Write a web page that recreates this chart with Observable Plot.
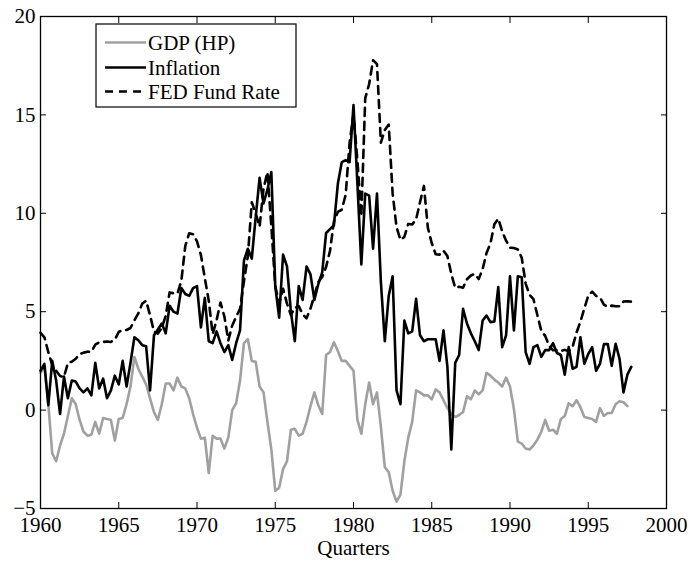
<!DOCTYPE html>
<html>
<head>
<meta charset="utf-8">
<script src="https://cdn.jsdelivr.net/npm/d3@7"></script>
<script src="https://cdn.jsdelivr.net/npm/@observablehq/plot@0.6"></script>
<style>
  html, body { margin: 0; padding: 0; background: #fff; }
  #wrap { position: relative; width: 692px; height: 567px; }
  #legend { position: absolute; left: 0; top: 0; }
</style>
</head>
<body>
<div id="wrap"></div>
<script>
// ---- Data (quarterly, 1960Q1 .. 1997Q4) ----
const startYear = 1960;
const seriesNames = ["GDP (HP)", "Inflation", "FED Fund Rate"];
const xLabel = "Quarters";
const xTicks = [1960, 1965, 1970, 1975, 1980, 1985, 1990, 1995, 2000];
const yTicks = [-5, 0, 5, 10, 15, 20];

const gdp = [
  1.9, 2.2, 0.3, -2.2,   -2.6, -1.8, -1.2, -0.3,   0.6, 0.3, -0.5, -1.1,
  -1.3, -1.25, -0.6, -1.2,   -0.4, -0.45, -0.5, -1.55,   -0.45, -0.4, 0.3, 1.2,
  2.7, 2.1, 1.7, 1.3,   0.6, -0.1, -0.5, 0.3,   1.35, 1.35, 1.0, 1.65,
  1.2, 1.1, 0.6, -0.2,   -0.9, -1.45, -1.4, -3.2,   -1.3, -1.45, -1.45, -1.95,
  -1.4, 0.0, 0.35, 1.5,   3.4, 3.6, 2.5, 2.45,   1.2, 0.9, -0.6, -2.0,
  -4.1, -3.95, -3.0, -2.6,   -1.0, -0.95, -1.3, -1.2,   -0.6, 0.2, 0.9, 0.25,
  -0.2, 2.8, 2.95, 3.45,   3.0, 2.5, 2.5, 2.25,   2.0, -0.5, -1.2, 0.3,
  1.4, 0.3, 0.9, -0.85,   -2.9, -3.15, -4.1, -4.65,   -4.3, -2.6, -1.4, -0.6,
  1.0, 0.9, 0.75, 0.75,   0.55, 1.05, 0.9, 0.5,   0.1, -0.2, -0.35, -0.25,
  -0.1, 0.7, 0.55, 1.0,   0.8, 1.0, 1.9, 1.75,   1.55, 1.4, 1.2, 1.65,
  1.2, 0.05, -1.6, -1.7,   -1.95, -2.0, -1.8, -1.5,   -1.1, -0.5, -1.05, -1.0,
  -1.2, -0.45, -0.3, 0.35,   0.2, 0.5, 0.15, -0.35,   -0.4, -0.45, -0.6, 0.1,
  -0.3, -0.15, -0.15, 0.3,   0.45, 0.4, 0.2
];

const inflation = [
  2.0, 2.35, 0.25, 2.5,   1.5, -0.2, 1.7, 0.6,   1.5, 1.45, 1.1, 0.9,
  1.1, 0.75, 2.4, 1.1,   1.6, 0.6, 1.0, 1.75,   1.3, 2.5, 1.2, 2.4,
  3.7, 3.55, 3.3, 3.25,   1.0, 3.8, 4.1, 4.4,   3.9, 5.3, 5.0, 4.9,
  6.2, 5.9, 5.8, 6.2,   6.3, 4.2, 5.7, 3.5,   3.4, 4.0, 3.4, 2.95,
  3.3, 2.55, 3.4, 4.05,   7.6, 8.2, 7.7, 9.8,   11.8, 10.5, 11.2, 12.1,
  6.3, 4.7, 7.9, 7.3,   5.0, 3.5, 6.3, 5.6,   7.3, 6.9, 5.6, 6.4,
  7.0, 9.0, 9.2, 9.4,   11.5, 12.6, 12.7, 12.6,   15.5, 11.5, 7.4, 11.0,
  10.9, 8.2, 11.0, 6.5,   3.5, 5.8, 6.8, 1.0,   0.3, 4.55, 3.9, 4.0,
  5.65, 3.8, 3.5, 3.6,   3.6, 3.6, 2.5, 4.05,   2.2, -2.0, 2.4, 2.8,
  5.15, 4.4, 3.9, 3.5,   3.05, 4.55, 4.8, 4.47,   4.5, 6.25, 3.2, 3.8,
  6.8, 4.05, 6.8, 6.75,   2.95, 2.35, 3.2, 3.3,   2.7, 3.05, 3.05, 3.4,
  2.9, 2.8, 1.8, 3.2,   2.1, 2.2, 3.7, 2.35,   2.85, 3.2, 2.0, 2.35,
  3.35, 3.35, 2.25, 3.37,   2.6, 0.9, 1.8, 2.2
];

const fedFunds = [
  3.93, 3.70, 2.94, 2.30,   2.00, 1.73, 1.68, 2.40,   2.46, 2.61, 2.85, 2.92,
  2.97, 2.96, 3.33, 3.45,   3.46, 3.49, 3.46, 3.58,   3.97, 4.08, 4.07, 4.17,
  4.56, 4.91, 5.41, 5.56,   4.82, 3.99, 3.89, 4.17,   4.79, 5.98, 5.94, 5.92,
  6.57, 8.33, 8.98, 8.94,   8.57, 7.88, 6.70, 5.57,   3.86, 4.56, 5.47, 4.75,
  3.54, 4.30, 4.74, 5.14,   6.54, 7.82, 10.56, 10.00,   9.32, 11.25, 12.09, 9.35,
  6.30, 5.42, 6.16, 5.41,   4.83, 5.20, 5.28, 4.87,   4.66, 5.16, 5.82, 6.51,
  6.76, 7.28, 8.10, 9.58,   10.07, 10.18, 10.95, 13.58,   15.05, 12.69, 9.84, 15.85,
  16.57, 17.78, 17.58, 13.59,   14.23, 14.51, 11.01, 9.29,   8.65, 8.80, 9.46, 9.43,
  9.69, 10.56, 11.39, 9.27,   8.48, 7.92, 7.90, 8.10,   7.83, 6.92, 6.21, 6.27,
  6.22, 6.65, 6.84, 6.92,   6.66, 7.16, 7.98, 8.47,   9.44, 9.73, 9.08, 8.61,
  8.25, 8.24, 8.16, 7.74,   6.43, 5.86, 5.64, 4.82,   4.02, 3.77, 3.26, 3.04,
  3.04, 3.00, 3.06, 2.99,   3.21, 3.94, 4.49, 5.17,   5.81, 6.02, 5.80, 5.72,
  5.36, 5.24, 5.31, 5.28,   5.28, 5.52, 5.53, 5.51
];

// ---- Build tables ----
const toRows = arr => arr.map((v, i) => ({t: startYear + i / 4, v}));
const gdpRows = toRows(gdp);
const inflRows = toRows(inflation);
const fedRows = toRows(fedFunds);

const FONT = "'Liberation Serif', 'Times New Roman', Times, serif";
const styles = [
  {stroke: "#a0a0a0", dash: null},
  {stroke: "#000000", dash: null},
  {stroke: "#000000", dash: "8,6"}
];
const LW = 2.6;

const chart = Plot.plot({
  width: 692,
  height: 567,
  marginLeft: 40,
  marginRight: 26,
  marginTop: 16,
  marginBottom: 59,
  style: {fontFamily: FONT, fontSize: "21px", background: "#fff", color: "#000", overflow: "visible"},
  x: {domain: [1960, 2000]},
  y: {domain: [-5, 20]},
  marks: [
    Plot.line(gdpRows, {x: "t", y: "v", stroke: styles[0].stroke, strokeWidth: LW, strokeLinejoin: "round"}),
    Plot.line(inflRows, {x: "t", y: "v", stroke: styles[1].stroke, strokeWidth: LW, strokeLinejoin: "round"}),
    Plot.line(fedRows, {x: "t", y: "v", stroke: styles[2].stroke, strokeWidth: LW, strokeDasharray: styles[2].dash}),
    Plot.axisX(xTicks, {anchor: "bottom", tickSize: -6, fill: "none", label: null}),
    Plot.axisX(xTicks, {anchor: "top", tickSize: -6, fill: "none", label: null}),
    Plot.axisY(yTicks, {anchor: "left", tickSize: -6, fill: "none", label: null}),
    Plot.axisY(yTicks, {anchor: "right", tickSize: -6, fill: "none", label: null}),
    Plot.axisX(xTicks, {anchor: "bottom", tickSize: 0, tickPadding: 9, tickFormat: "d", label: null, fontSize: 21}),
    Plot.axisY(yTicks, {anchor: "left", tickSize: 0, tickPadding: 5, label: null, fontSize: 21}),
    Plot.frame({stroke: "#000", strokeWidth: 1.3}),
    Plot.text([xLabel], {frameAnchor: "bottom", dy: 46, fontSize: 21, fill: "#000"})
  ]
});

const wrap = document.getElementById("wrap");
wrap.appendChild(chart);

// ---- Legend (inside the plot box, top-left) ----
const ns = "http://www.w3.org/2000/svg";
const leg = document.createElementNS(ns, "svg");
leg.setAttribute("id", "legend");
leg.setAttribute("width", 692);
leg.setAttribute("height", 120);
leg.style.fontFamily = FONT;
const box = document.createElementNS(ns, "rect");
box.setAttribute("x", 96); box.setAttribute("y", 24);
box.setAttribute("width", 200); box.setAttribute("height", 83);
box.setAttribute("fill", "#fff"); box.setAttribute("stroke", "#000"); box.setAttribute("stroke-width", 1.2);
leg.appendChild(box);
const rowY = [42.5, 67.5, 91.5];
seriesNames.forEach((name, i) => {
  const ln = document.createElementNS(ns, "line");
  ln.setAttribute("x1", 105); ln.setAttribute("x2", 146);
  ln.setAttribute("y1", rowY[i]); ln.setAttribute("y2", rowY[i]);
  ln.setAttribute("stroke", styles[i].stroke);
  ln.setAttribute("stroke-width", LW);
  if (styles[i].dash) ln.setAttribute("stroke-dasharray", styles[i].dash);
  leg.appendChild(ln);
  const tx = document.createElementNS(ns, "text");
  tx.setAttribute("x", 148);
  tx.setAttribute("y", rowY[i] + 7);
  tx.setAttribute("font-size", 21);
  tx.setAttribute("fill", "#000");
  tx.textContent = name;
  leg.appendChild(tx);
});
wrap.appendChild(leg);
</script>
</body>
</html>
